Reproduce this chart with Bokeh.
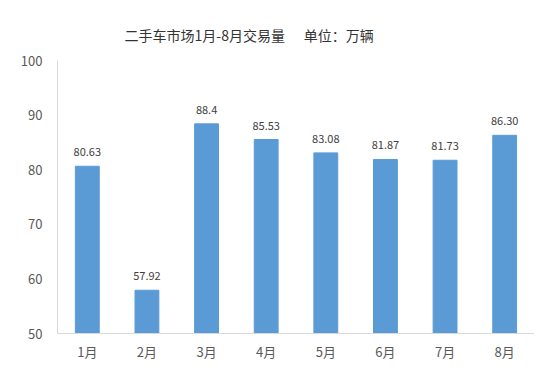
from bokeh.plotting import figure
from bokeh.models import ColumnDataSource, Range1d, FixedTicker, Title
from bokeh.core.properties import value
from bokeh.embed import file_html
from bokeh.resources import INLINE

months = ["1月", "2月", "3月", "4月", "5月", "6月", "7月", "8月"]
volumes = [80.63, 57.92, 88.4, 85.53, 83.08, 81.87, 81.73, 86.30]
value_labels = ["80.63", "57.92", "88.4", "85.53", "83.08", "81.87", "81.73", "86.30"]
y_ticks = [50, 60, 70, 80, 90, 100]
title_text = "二手车市场1月-8月交易量" + "\u00a0" * 6 + "单位：万辆"

FONT = "Noto Sans CJK SC"

src = ColumnDataSource(dict(m=months, v=volumes, lab=value_labels))

p = figure(x_range=months, y_range=Range1d(50, 100), width=534, height=363,
           output_backend="svg", toolbar_location=None,
           min_border_left=57, min_border_right=0, min_border_bottom=30, min_border_top=60)

p.add_layout(Title(text=title_text, text_font=FONT,
                   text_font_size="14px", text_font_style="normal", text_color="#333333",
                   align="left", offset=67, standoff=27, vertical_align="top"), "above")

p.vbar(x="m", top="v", bottom=50, width=0.4, source=src, color="#5B9BD5")
p.text(x="m", y="v", text="lab", source=src, text_align="center", text_baseline="bottom",
       y_offset=-10, text_font=value(FONT), text_font_size="11px", text_color="#404040")

p.outline_line_color = None
p.xgrid.grid_line_color = None
p.ygrid.grid_line_color = None

p.yaxis.ticker = FixedTicker(ticks=y_ticks)
for ax in (p.xaxis, p.yaxis):
    ax.axis_line_color = "#D9D9D9"
    ax.major_tick_line_color = None
    ax.minor_tick_line_color = None
    ax.major_label_text_font = FONT
    ax.major_label_text_font_size = "13px"
    ax.major_label_text_color = "#595959"
p.yaxis.major_label_standoff = 9
p.xaxis.major_label_standoff = 2

open("out.html", "w").write(file_html(p, INLINE))
